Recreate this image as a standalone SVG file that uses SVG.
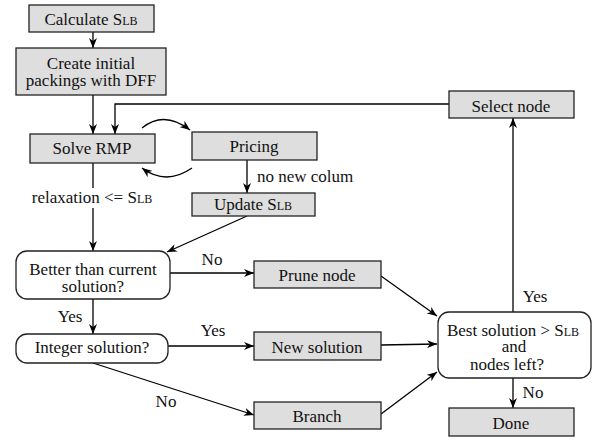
<svg xmlns="http://www.w3.org/2000/svg" width="597" height="441" viewBox="0 0 597 441" font-family="'Liberation Serif', 'Times New Roman', 'DejaVu Serif', serif">
<defs>
<marker id="arr" viewBox="0 0 10 8" refX="10" refY="4" markerWidth="10" markerHeight="8" markerUnits="userSpaceOnUse" orient="auto">
<path d="M0,0 L10,4 L0,8 L3,4 z" fill="#000"/>
</marker>
<style>
.box{fill:#dedede;stroke:#222;stroke-width:1.3}
.dec{fill:#fff;stroke:#222;stroke-width:1.3}
.t{font-family:'Liberation Serif','Times New Roman','DejaVu Serif',serif;font-size:17px;fill:#111;text-anchor:middle}
.sub{font-size:12px}
.ca{fill:none;stroke:#000;stroke-width:1.3;marker-end:url(#arr)}
</style>
</defs>
<rect width="597" height="441" fill="#fff"/>
<g id="connectors">
<line class="ca" x1="93" y1="32" x2="93" y2="48"/>
<line class="ca" x1="93" y1="95" x2="93" y2="134"/>
<polyline class="ca" points="449,104 115,104 115,134"/>
<path class="ca" d="M142,128 Q164,110 190,130"/>
<path class="ca" d="M192,168 Q166,186 142,168"/>
<line class="ca" x1="247" y1="160" x2="247" y2="193"/>
<line class="ca" x1="93" y1="163" x2="93" y2="251"/>
<line class="ca" x1="247" y1="216" x2="167" y2="252"/>
<line class="ca" x1="170" y1="273" x2="254" y2="273"/>
<line class="ca" x1="93" y1="299" x2="93" y2="334"/>
<line class="ca" x1="168" y1="346" x2="254" y2="346"/>
<line class="ca" x1="93" y1="363" x2="254" y2="415"/>
<line class="ca" x1="381" y1="276" x2="437" y2="316"/>
<line class="ca" x1="381" y1="345" x2="437" y2="344"/>
<line class="ca" x1="381" y1="414" x2="437" y2="372"/>
<line class="ca" x1="513" y1="312" x2="513" y2="118"/>
<line class="ca" x1="513" y1="378" x2="513" y2="408"/>
<rect x="28" y="188" width="130" height="20" fill="#fff"/>
<text class="t" x="92" y="203">relaxation &lt;= S<tspan class="sub">LB</tspan></text>
<text class="t" x="257" y="182" style="text-anchor:start">no new colum</text>
<text class="t" x="212" y="265">No</text>
<text class="t" x="70" y="322">Yes</text>
<text class="t" x="213" y="336">Yes</text>
<text class="t" x="166" y="407">No</text>
<text class="t" x="535" y="302">Yes</text>
<text class="t" x="533" y="398">No</text>
</g>
<g id="calc">
<rect class="box" x="29" y="5" width="125" height="27"/>
<text class="t" x="91" y="25">Calculate S<tspan class="sub">LB</tspan></text>
</g>
<g id="create">
<rect class="box" x="16" y="48" width="150" height="47"/>
<text class="t" x="91" y="69">Create initial</text>
<text class="t" x="91" y="86">packings with DFF</text>
</g>
<g id="solve">
<rect class="box" x="30" y="134" width="125" height="29"/>
<text class="t" x="92" y="154">Solve RMP</text>
</g>
<g id="pricing">
<rect class="box" x="192" y="132" width="125" height="28"/>
<text class="t" x="254" y="152">Pricing</text>
</g>
<g id="update">
<rect class="box" x="192" y="193" width="123" height="23"/>
<text class="t" x="253" y="210">Update S<tspan class="sub">LB</tspan></text>
</g>
<g id="better">
<rect class="dec" x="16" y="251" width="154" height="48" rx="11"/>
<text class="t" x="93" y="275">Better than current</text>
<text class="t" x="93" y="292">solution?</text>
</g>
<g id="prune">
<rect class="box" x="254" y="261" width="127" height="27"/>
<text class="t" x="317" y="281">Prune node</text>
</g>
<g id="integer">
<rect class="dec" x="16" y="334" width="152" height="29" rx="11"/>
<text class="t" x="92" y="353">Integer solution?</text>
</g>
<g id="newsol">
<rect class="box" x="254" y="332" width="127" height="28"/>
<text class="t" x="317" y="353">New solution</text>
</g>
<g id="branch">
<rect class="box" x="254" y="402" width="127" height="27"/>
<text class="t" x="317" y="422">Branch</text>
</g>
<g id="best">
<rect class="dec" x="438" y="312" width="153" height="66" rx="11"/>
<text class="t" x="513" y="336">Best solution &gt; S<tspan class="sub">LB</tspan></text>
<text class="t" x="514" y="352">and</text>
<text class="t" x="507" y="370">nodes left?</text>
</g>
<g id="select">
<rect class="box" x="449" y="91" width="125" height="27"/>
<text class="t" x="511" y="112">Select node</text>
</g>
<g id="done">
<rect class="box" x="449" y="408" width="125" height="28"/>
<text class="t" x="511" y="429">Done</text>
</g>
</svg>
